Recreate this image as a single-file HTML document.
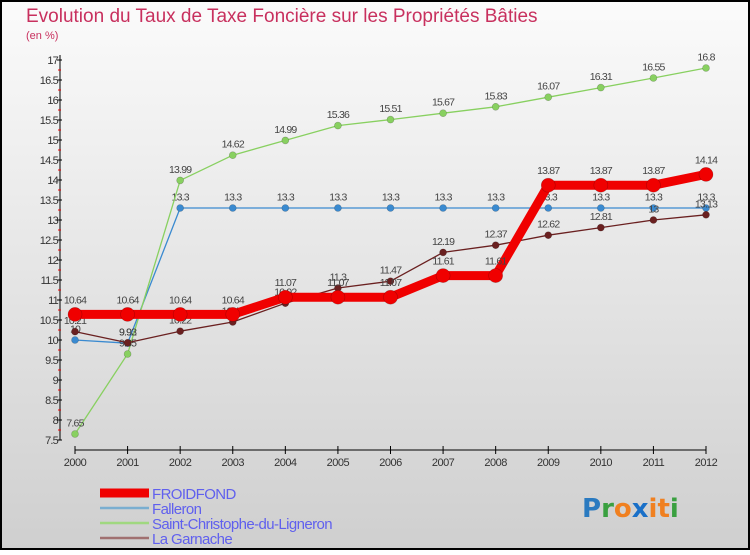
<!DOCTYPE html>
<html><head><meta charset="utf-8"><style>
html,body{margin:0;padding:0}
body{width:750px;height:550px;overflow:hidden;font-family:"Liberation Sans",sans-serif}
</style></head><body>
<svg id="chart" width="750" height="550" xmlns="http://www.w3.org/2000/svg">
<defs>
<linearGradient id="bg" x1="0" y1="0" x2="0" y2="1">
<stop offset="0" stop-color="#fbfbfb"/><stop offset="1" stop-color="#cfcfcf"/>
</linearGradient>
</defs>
<rect x="1" y="1" width="748" height="548" fill="url(#bg)" stroke="#000" stroke-width="2"/>
<text x="26" y="22" font-size="19" fill="#c8305e">Evolution du Taux de Taxe Foncière sur les Propriétés Bâties</text>
<text x="26" y="39" font-size="11" fill="#c8305e">(en %)</text>
<g id="axes"></g>
<g id="series"></g>
<g id="legend"></g>
<text x="582" y="517" font-size="26" font-family="DejaVu Sans, sans-serif" font-weight="bold"><tspan fill="#2a7ac0">P</tspan><tspan fill="#3aa040">r</tspan><tspan fill="#f08020">o</tspan><tspan fill="#1a70c8">x</tspan><tspan fill="#f08020">it</tspan><tspan fill="#3aa040">i</tspan></text>
</svg>
<script>
const years = ["2000","2001","2002","2003","2004","2005","2006","2007","2008","2009","2010","2011","2012"];
const froidfond = [10.64,10.64,10.64,10.64,11.07,11.07,11.07,11.61,11.61,13.87,13.87,13.87,14.14];
const falleron = [10,9.92,13.3,13.3,13.3,13.3,13.3,13.3,13.3,13.3,13.3,13.3,13.3];
const stChristophe = [7.65,9.65,13.99,14.62,14.99,15.36,15.51,15.67,15.83,16.07,16.31,16.55,16.8];
const laGarnache = [10.21,9.93,10.22,10.45,10.92,11.3,11.47,12.19,12.37,12.62,12.81,13,13.13];
const yTicks = [7.5,8,8.5,9,9.5,10,10.5,11,11.5,12,12.5,13,13.5,14,14.5,15,15.5,16,16.5,17];
const seriesNames = ["FROIDFOND","Falleron","Saint-Christophe-du-Ligneron","La Garnache"];

const NS="http://www.w3.org/2000/svg";
const yMin=7.5,yMax=17,yTop=60,yBot=440;
const xL=75,xR=706;
function yS(v){return yBot-(v-yMin)/(yMax-yMin)*(yBot-yTop);}
function xS(i){return xL+i*(xR-xL)/(years.length-1);}
function mk(tag,attrs,parent){const e=document.createElementNS(NS,tag);for(const k in attrs)e.setAttribute(k,attrs[k]);parent.appendChild(e);return e;}
const axes=document.getElementById('axes');
const ax=mk('line',{x1:60,y1:yTop-5,x2:60,y2:yBot,stroke:'#000','stroke-width':1},axes);


yTicks.forEach((t,i)=>{
  const y=yS(t);
  const tk=mk('line',{x1:57,y1:y,x2:62,y2:y,stroke:'#000'},axes);
  
  
  if(i<yTicks.length-1){
    const m=mk('line',{x1:58,y1:y-10,x2:61,y2:y-10,stroke:'#e00'},axes);
    
    
  }
  const tx=mk('text',{x:58,y:y+4,'text-anchor':'end','font-size':11,fill:'#333','letter-spacing':'-0.8'},axes);
  tx.textContent=String(t);
  
  
});
const xa=mk('line',{x1:xL,y1:450,x2:xR,y2:450,stroke:'#000'},axes);


years.forEach((yr,i)=>{
  const x=xS(i);
  const tk=mk('line',{x1:x,y1:446,x2:x,y2:454,stroke:'#000'},axes);
  
  
  const tx=mk('text',{x:x,y:466,'text-anchor':'middle','font-size':11,fill:'#333','letter-spacing':'-0.5'},axes);
  tx.textContent=yr;
  
  
});
const sg=document.getElementById('series');
const defs=[
  {d:falleron,c:'#3a8ad0',w:1.3,r:3.5,n:'falleron'},
  {d:stChristophe,c:'#88d060',w:1.3,r:3.5,n:'saint-christophe'},
  {d:laGarnache,c:'#6a2020',w:1.3,r:3.5,n:'la-garnache'},
  {d:froidfond,c:'#f00000',w:9,r:7,n:'froidfond'}
];
defs.forEach(s=>{
  const g=mk('g',{},sg);
  
  
  const pts=s.d.map((v,i)=>xS(i)+','+yS(v)).join(' ');
  const pl=mk('polyline',{points:pts,fill:'none',stroke:s.c,'stroke-width':s.w,'stroke-linejoin':'round'},g);
  
  
  s.d.forEach((v,i)=>{
    const c=mk('circle',{cx:xS(i),cy:yS(v),r:s.r,fill:s.c,stroke:'rgba(0,0,0,0.25)','stroke-width':0.6},g);
    
    
    const t=mk('text',{x:xS(i),y:yS(v)-(s.r+4),'text-anchor':'middle','font-size':10.5,fill:'#444','letter-spacing':'-0.8'},g);
    t.textContent=String(v);
    
    
  });
});
const lg=document.getElementById('legend');
const lcol=['#f00000','#7aaed0','#a0d880','#a07070'];
const lw=[9,2.5,2.5,2.5];
seriesNames.forEach((n,i)=>{
  const y=493+i*15;
  const g=mk('g',{},lg);
  
  
  mk('line',{x1:100,y1:y,x2:149,y2:y,stroke:lcol[i],'stroke-width':lw[i]},g);
  const t=mk('text',{x:152,y:y+6,'font-size':15,fill:'#6060ee','letter-spacing':'-0.6'},g);
  t.textContent=n;
});
</script>
</body></html>
